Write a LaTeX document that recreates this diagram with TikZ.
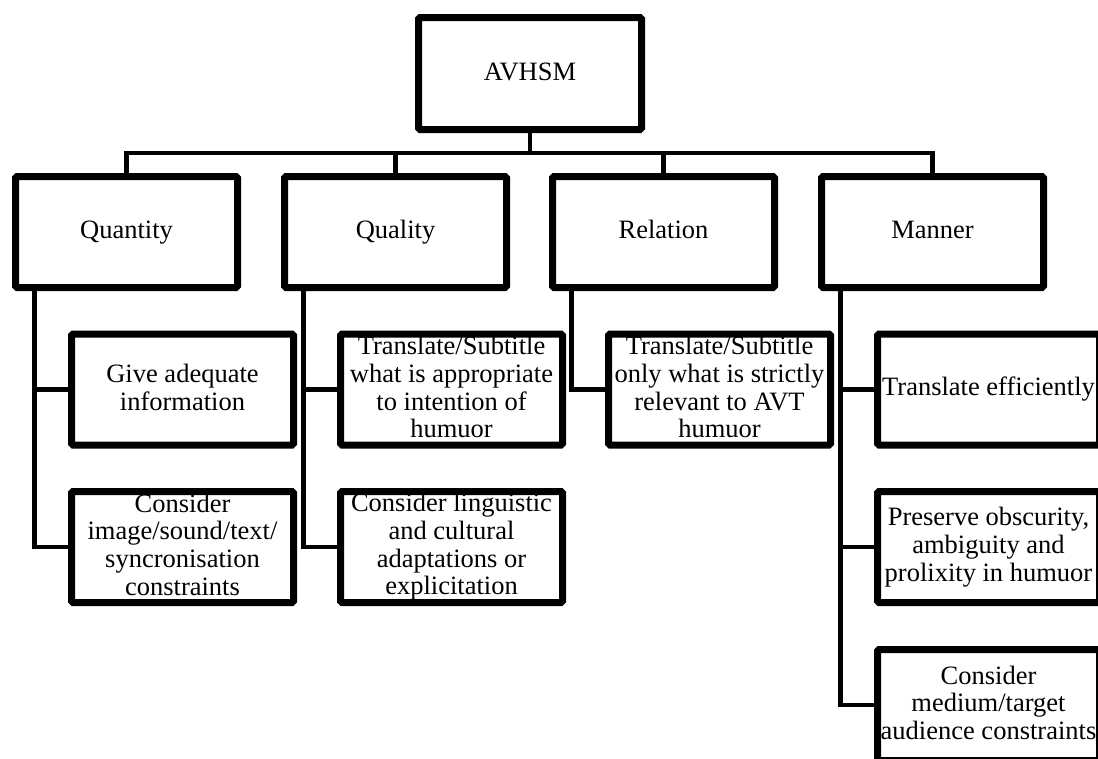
\documentclass[tikz,border=0pt]{standalone}
\usepackage{fontspec}
\setmainfont{Liberation Serif}
\usetikzlibrary{shadows}
\newcommand{\boxstrut}{\rule[-5pt]{0pt}{23pt}}
\begin{document}
\begin{tikzpicture}[x=1pt,y=-1pt,
  box/.style={draw, line width=7pt, fill=white, rounded corners=1.5pt,
    inner xsep=-6pt, inner ysep=0pt,
    minimum width=222pt, minimum height=111pt, align=center,
    font=\fontsize{26.5}{27.7}\selectfont,
    execute at begin node=\boxstrut, execute at end node=\boxstrut,
    drop shadow={opacity=0.3, shadow xshift=2pt, shadow yshift=-2pt}},
  link/.style={draw, line width=4.3pt}]
\clip (0,0) rectangle (1098,758);

\node[box, minimum width=223pt, minimum height=112pt] (avhsm) at (530,73.5) {AVHSM};

\node[box] (quantity) at (126.5,232) {Quantity};
\node[box] (quality) at (395.5,232) {Quality};
\node[box] (relation) at (663.5,232) {Relation};
\node[box] (manner) at (932.5,232) {Manner};

\node[box] (quantity1) at (182.5,389.5) {Give adequate\\information};
\node[box] (quantity2) at (182.5,547) {Consider\\image/sound/text/\\syncronisation\\constraints};
\node[box] (quality1) at (451.5,389.5) {Translate/Subtitle\\what is appropriate\\to intention of\\humuor};
\node[box] (quality2) at (451.5,547) {Consider linguistic\\and cultural\\adaptations or\\explicitation};
\node[box] (relation1) at (719.5,389.5) {Translate/Subtitle\\only what is strictly\\relevant to AVT\\humuor};
\node[box] (manner1) at (988.5,389.5) {Translate efficiently};
\node[box] (manner2) at (988.5,547) {Preserve obscurity,\\ambiguity and\\prolixity in humuor};
\node[box] (manner3) at (988.5,705) {Consider\\medium/target\\audience constraints};

\coordinate (bus) at (0,153);

\path[link] (avhsm.south) -- (avhsm.south |- bus);
\path[link] (quantity.north) -- (quantity.north |- bus) -- (manner.north |- bus) -- (manner.north);
\path[link] (quality.north) -- (quality.north |- bus);
\path[link] (relation.north) -- (relation.north |- bus);

\path[link] ([xshift=22.5pt]quantity.south west) |- (quantity1.west);
\path[link] ([xshift=22.5pt]quantity.south west) |- (quantity2.west);
\path[link] ([xshift=22.5pt]quality.south west) |- (quality1.west);
\path[link] ([xshift=22.5pt]quality.south west) |- (quality2.west);
\path[link] ([xshift=22.5pt]relation.south west) |- (relation1.west);
\path[link] ([xshift=22.5pt]manner.south west) |- (manner1.west);
\path[link] ([xshift=22.5pt]manner.south west) |- (manner2.west);
\path[link] ([xshift=22.5pt]manner.south west) |- (manner3.west);
\end{tikzpicture}
\end{document}
